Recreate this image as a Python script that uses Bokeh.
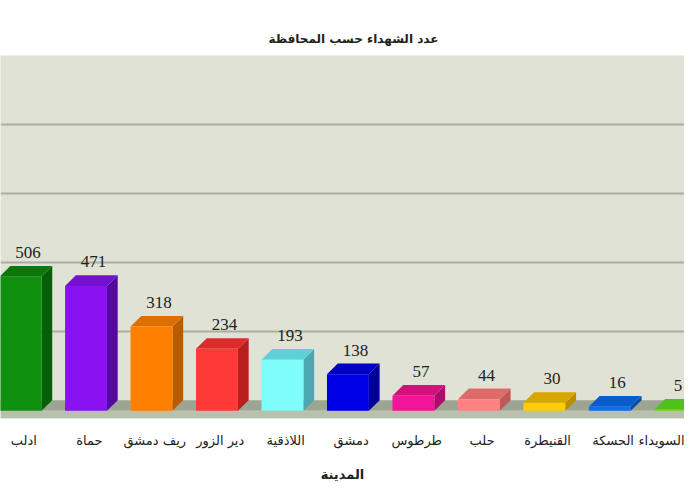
from bokeh.plotting import figure
from bokeh.models import Range1d, FixedTicker, ColumnDataSource
from bokeh.core.properties import value
from bokeh.embed import file_html
from bokeh.resources import INLINE

# ---- data ----
cities = ["ادلب", "حماة", "ريف دمشق", "دير الزور", "اللاذقية", "دمشق",
          "طرطوس", "حلب", "القنيطرة", "الحسكة", "السويداء"]
martyrs = [506, 471, 318, 234, 193, 138, 57, 44, 30, 16, 5]
grid_ticks = [260, 520, 780, 1040]

# ---- styles ----
front_colors = ["#0f900f", "#8a12f2", "#ff8000", "#ff3838", "#7ffcfc", "#0000e6",
                "#f2159a", "#ff8282", "#ffcc00", "#0b6ff0", "#66dd22"]
side_colors = ["#076007", "#5508a0", "#b85c00", "#b82020", "#4aa9b0", "#00009a",
               "#a80e6a", "#c05858", "#b88e00", "#0848a8", "#3f9e14"]
top_colors = ["#0c780c", "#7410d0", "#de6e00", "#de2a2a", "#5ed0d8", "#0000c2",
              "#d0127f", "#de6a6a", "#d8a600", "#095cce", "#52c01a"]

HW = 0.32      # half width of bar front (x units)
DX = 0.164     # depth offset in x units
DY = 40        # depth offset in y units
X0, X1 = -0.306, 10.14

p = figure(width=684, height=484, output_backend="svg", toolbar_location=None,
           x_range=Range1d(X0, X1), y_range=Range1d(-69, 1300),
           min_border_left=0, min_border_right=0, min_border_top=55,
           min_border_bottom=62)

p.background_fill_color = "#dfe2d4"
p.border_fill_color = "white"
p.outline_line_color = None

# title
p.title.text = "عدد الشهداء حسب المحافظة"
p.title.align = "left"
p.title.offset = 268
p.title.text_font = "DejaVu Sans"
p.title.text_font_size = "12px"
p.title.text_font_style = "bold"
p.title.text_color = "#222222"
p.title.standoff = 20

# grid
p.xgrid.visible = False
p.ygrid.ticker = FixedTicker(ticks=grid_ticks)
p.ygrid.grid_line_color = "#abafa2"
p.ygrid.grid_line_width = 2
p.yaxis.visible = False

# floor
p.quad(left=[X0], right=[X1], bottom=[-DY], top=[0], fill_color="#9ea493", line_color=None)
p.quad(left=[X0], right=[X1], bottom=[-69], top=[-DY], fill_color="#b9c1ae", line_color=None)

# bars
xs = list(range(len(cities)))
front = ColumnDataSource(dict(
    left=[i - HW for i in xs], right=[i + HW for i in xs],
    bottom=[-DY] * len(xs), top=[v - DY for v in martyrs], color=front_colors))
side_xs = [[i + HW, i + HW + DX, i + HW + DX, i + HW] for i in xs]
side_ys = [[-DY, 0, v, v - DY] for v in martyrs]
top_xs = [[i - HW, i + HW, i + HW + DX, i - HW + DX] for i in xs]
top_ys = [[v - DY, v - DY, v, v] for v in martyrs]

p.patches(side_xs, side_ys, fill_color=side_colors, line_color=None)
p.patches(top_xs, top_ys, fill_color=top_colors, line_color=None)
p.quad(left="left", right="right", bottom="bottom", top="top", fill_color="color",
       line_color=None, source=front)

# value labels (kept inside the frame at the right edge)
p.text(x=[min(i + DX * 0.7, X1 - 0.1) for i in xs], y=[v + 30 for v in martyrs],
       text=[str(v) for v in martyrs], text_align="center", text_baseline="bottom",
       text_font=value("Liberation Serif"), text_font_size="17px", text_color="#222222")

# x axis
p.xaxis.ticker = FixedTicker(ticks=[i + 0.05 for i in xs])
p.xaxis.major_label_overrides = {i + 0.05: c for i, c in zip(xs, cities)}
p.xaxis.major_label_text_font = "DejaVu Sans"
p.xaxis.major_label_text_font_size = "13px"
p.xaxis.major_label_text_color = "#222222"
p.xaxis.major_label_standoff = 8
p.xaxis.axis_line_color = None
p.xaxis.major_tick_line_color = None
p.xaxis.minor_tick_line_color = None
p.xaxis.axis_label = "المدينة"
p.xaxis.axis_label_text_font = "DejaVu Sans"
p.xaxis.axis_label_text_font_size = "13px"
p.xaxis.axis_label_text_font_style = "bold"
p.xaxis.axis_label_text_color = "#222222"
p.xaxis.axis_label_standoff = 16

open("out.html", "w").write(file_html(p, INLINE))
